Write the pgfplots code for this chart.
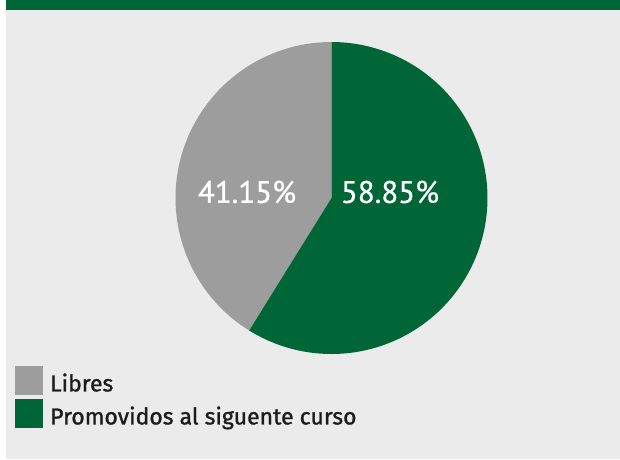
\documentclass[border=0pt]{standalone}
\usepackage{pgfplots}
\pgfplotsset{compat=1.18}
\usepackage{fontspec}
\setmainfont{PT Sans}
\newfontfamily\legfont[FakeBold=1.2]{Fira Sans}
\newfontfamily\pctfont[FakeBold=0.8]{PT Sans}
\definecolor{pgreen}{HTML}{006637}
\definecolor{pgray}{HTML}{9D9D9D}
\definecolor{bggray}{HTML}{EBEBEB}
\definecolor{txt}{HTML}{1C1C1C}
\begin{document}
\begin{tikzpicture}
% data (percent)
\def\vLibres{41.15}
\def\vPromo{58.85}
\pgfmathsetmacro\angB{90-3.6*\vPromo}
\begin{axis}[
  width=620pt, height=459pt, scale only axis,
  xmin=0, xmax=620, ymin=0, ymax=459, y dir=reverse,
  hide axis, clip=false,
  axis background/.style={fill=bggray},
  legend style={at={(axis cs:12,364)}, anchor=north west, draw=none, fill=none,
    font=\legfont\fontsize{23}{27}\selectfont\color{txt}, row sep=4pt,
    nodes={inner sep=2pt}},
  legend cell align=left,
  legend image code/.code={\fill[#1] (0pt,-12pt) rectangle (28pt,17pt);},
]
\fill[white] (axis cs:0,0) rectangle (axis cs:6,459);
\fill[pgreen] (axis cs:6,0) rectangle (axis cs:620,10);
\addplot[fill=pgray, draw=none, samples=120, domain=90:\angB+360]
  ({331.5+156*cos(x)},{198-156*sin(x)}) -- (axis cs:331.5,198) -- cycle;
\addlegendentry{\hspace{5pt}Libres}
\addplot[fill=pgreen, draw=none, samples=120, domain=\angB:90]
  ({331.5+156*cos(x)},{198-156*sin(x)}) -- (axis cs:331.5,198) -- cycle;
\addlegendentry{\hspace{5pt}Promovidos al siguente curso}
\node[white, font=\pctfont\fontsize{31}{36}\selectfont] at (axis cs:247,192) {41.15\%};
\node[white, font=\pctfont\fontsize{31}{36}\selectfont] at (axis cs:390,192) {58.85\%};
\end{axis}
\end{tikzpicture}
\end{document}
